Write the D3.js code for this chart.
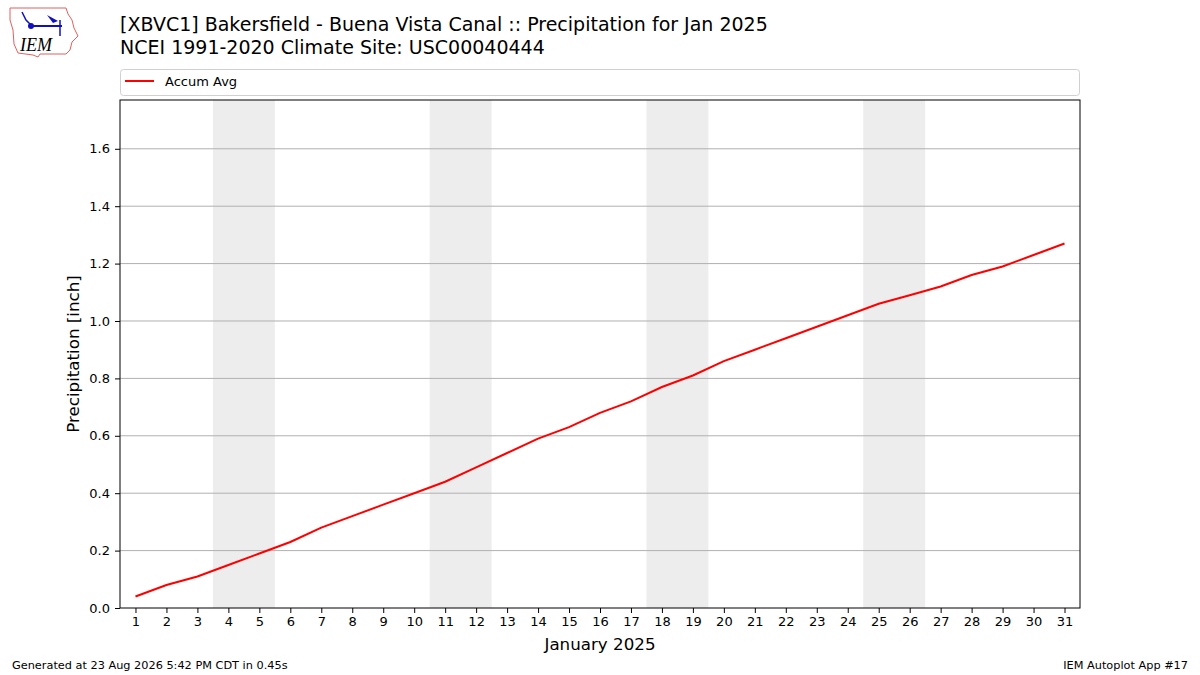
<!doctype html>
<html>
<head>
<script src="https://d3js.org/d3.v7.min.js"></script>
<style>
    body { margin: 0; background: #fff; }
    svg text { font-family: "DejaVu Sans", sans-serif; fill: #000; }
</style>
</head>
<body>
<script>
    // daily accumulated normal precipitation (inch), Jan 1..31
    const days = d3.range(1, 32);
    const accumAvg = [0.04, 0.08, 0.11, 0.15, 0.19, 0.23, 0.28, 0.32, 0.36, 0.40,
                      0.44, 0.49, 0.54, 0.59, 0.63, 0.68, 0.72, 0.77, 0.81, 0.86,
                      0.90, 0.94, 0.98, 1.02, 1.06, 1.09, 1.12, 1.16, 1.19, 1.23, 1.27];
    const weekends = [[4, 5], [11, 12], [18, 19], [25, 26]];
    const yTicks = [0.0, 0.2, 0.4, 0.6, 0.8, 1.0, 1.2, 1.4, 1.6];

    const width = 1200, height = 675;
    const plotL = 120, plotR = 1080, plotT = 100, plotB = 608;

    const svg = d3.select("body").append("svg")
        .attr("width", width)
        .attr("height", height);

    const x = d3.scaleLinear().domain([0.5, 31.5]).range([plotL, plotR]);
    const y = d3.scaleLinear().domain([0, 1.77]).range([plotB, plotT]);

    // weekend shading
    svg.selectAll("rect.wk")
        .data(weekends)
        .enter().append("rect")
        .attr("x", d => x(d[0] - 0.5))
        .attr("width", d => x(d[1] + 0.5) - x(d[0] - 0.5))
        .attr("y", plotT)
        .attr("height", plotB - plotT)
        .attr("fill", "#ededed");

    // grid
    svg.selectAll("line.grid")
        .data(yTicks.filter(d => d > 0))
        .enter().append("line")
        .attr("x1", plotL).attr("x2", plotR)
        .attr("y1", d => y(d)).attr("y2", d => y(d))
        .attr("stroke", "#b0b0b0")
        .attr("stroke-width", 1);

    // line
    const line = d3.line()
        .x((d, i) => x(days[i]))
        .y(d => y(d));
    svg.append("path")
        .datum(accumAvg)
        .attr("d", line)
        .attr("fill", "none")
        .attr("stroke", "red")
        .attr("stroke-width", 2);

    // axes
    const xAxis = svg.append("g")
        .attr("transform", "translate(0," + plotB + ")")
        .call(d3.axisBottom(x).tickValues(days).tickSize(5).tickPadding(4).tickFormat(d3.format("d")));
    const yAxis = svg.append("g")
        .attr("transform", "translate(" + plotL + ",0)")
        .call(d3.axisLeft(y).tickValues(yTicks).tickSize(5).tickPadding(5).tickFormat(d3.format(".1f")));
    [xAxis, yAxis].forEach(g => {
        g.select(".domain").remove();
        g.selectAll("text").style("font-size", "13px").attr("fill", "#000");
        g.selectAll("line").attr("stroke", "#000");
    });

    // frame
    svg.append("rect")
        .attr("x", plotL).attr("y", plotT)
        .attr("width", plotR - plotL).attr("height", plotB - plotT)
        .attr("fill", "none").attr("stroke", "#000").attr("stroke-width", 1);

    // axis labels
    svg.append("text")
        .attr("x", (plotL + plotR) / 2).attr("y", 650)
        .attr("text-anchor", "middle")
        .style("font-size", "16.7px")
        .text("January 2025");
    svg.append("text")
        .attr("transform", "translate(79," + (plotT + plotB) / 2 + ") rotate(-90)")
        .attr("text-anchor", "middle")
        .style("font-size", "16.7px")
        .text("Precipitation [inch]");

    // legend
    svg.append("rect")
        .attr("x", 120.5).attr("y", 69.5)
        .attr("width", 959).attr("height", 26)
        .attr("rx", 3)
        .attr("fill", "#fff").attr("stroke", "#d0d0d0");
    svg.append("line")
        .attr("x1", 125).attr("x2", 154).attr("y1", 81).attr("y2", 81)
        .attr("stroke", "red").attr("stroke-width", 2);
    svg.append("text")
        .attr("x", 165).attr("y", 86)
        .style("font-size", "13px")
        .text("Accum Avg");

    // titles
    svg.append("text")
        .attr("x", 120).attr("y", 31)
        .style("font-size", "19px")
        .text("[XBVC1] Bakersfield - Buena Vista Canal :: Precipitation for Jan 2025");
    svg.append("text")
        .attr("x", 120).attr("y", 54)
        .style("font-size", "19px")
        .text("NCEI 1991-2020 Climate Site: USC00040444");

    // footer
    svg.append("text")
        .attr("x", 12).attr("y", 669)
        .style("font-size", "11.3px")
        .text("Generated at 23 Aug 2026 5:42 PM CDT in 0.45s");
    svg.append("text")
        .attr("x", 1188).attr("y", 669)
        .attr("text-anchor", "end")
        .style("font-size", "11.3px")
        .text("IEM Autoplot App #17");

    // logo (rough Iowa outline + vane)
    const logo = svg.append("g");
    logo.append("path")
        .attr("d", "M10,8 L66,8 L68,14 L72,20 L74,28 L78,36 L72,42 L70,50 L66,54 L40,54 L38,57 L33,55 L18,53 L14,44 L13,30 L10,20 Z")
        .attr("fill", "none").attr("stroke", "#e06060").attr("stroke-width", 1);
    logo.append("line").attr("x1", 30).attr("x2", 62).attr("y1", 26).attr("y2", 26)
        .attr("stroke", "#1010c0").attr("stroke-width", 2);
    logo.append("circle").attr("cx", 31).attr("cy", 26).attr("r", 3).attr("fill", "#1010c0");
    logo.append("path").attr("d", "M47,15 L58,21 L53,23 Z").attr("fill", "#1010c0");
    logo.append("line").attr("x1", 60).attr("x2", 60).attr("y1", 20).attr("y2", 36)
        .attr("stroke", "#1010c0").attr("stroke-width", 1.5);
    logo.append("path").attr("d", "M22,12 L26,20 L30,24").attr("fill", "none")
        .attr("stroke", "#1010c0").attr("stroke-width", 1.5);
    logo.append("text")
        .attr("x", 20).attr("y", 51)
        .style("font-family", "'Liberation Serif', serif")
        .style("font-style", "italic")
        .style("font-size", "18px")
        .attr("fill", "#d02020")
        .text("IEM");
</script>
</body>
</html>
